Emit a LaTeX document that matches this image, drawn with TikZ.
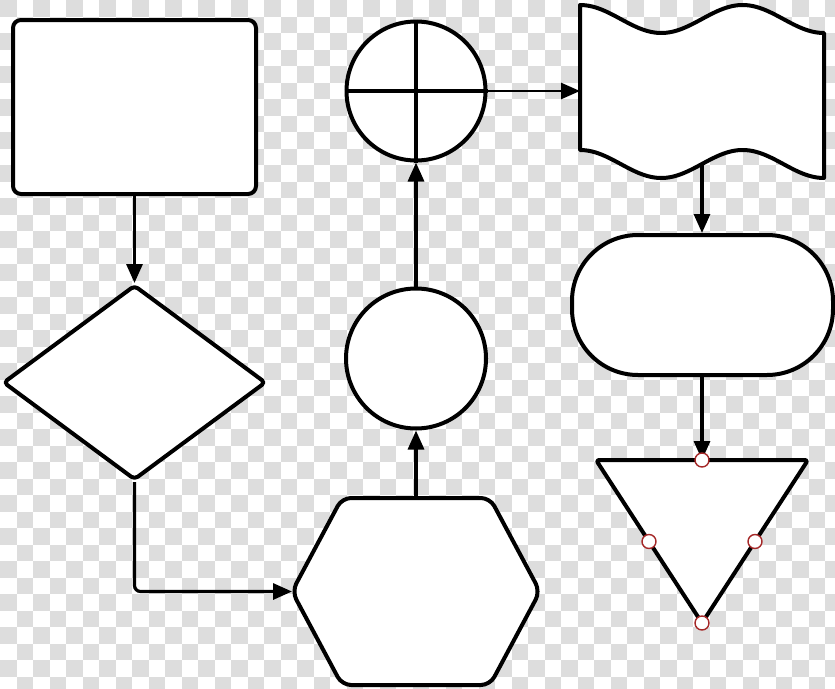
\documentclass[tikz,border=0pt]{standalone}
\usetikzlibrary{arrows.meta,shapes.geometric}
\definecolor{chkgray}{RGB}{221,221,221}
\definecolor{portred}{RGB}{165,40,40}
\begin{document}
\begin{tikzpicture}[x=1pt,y=-1pt,
  shp/.style={draw=black,fill=white,line width=4pt,line join=round},
  conn/.style={draw=black,line width=3.2pt,-{Triangle[length=19pt,width=16pt]}},
  port/.style={circle,draw=portred,fill=white,line width=1.4pt,minimum size=14pt,inner sep=0pt}]
\useasboundingbox (0,0) rectangle (835,688);
\fill[white] (0,0) rectangle (835,688);
\begin{scope}
  \clip (0,0) rectangle (835,688);
  \foreach \j in {0,...,41}{
    \foreach \i in {0,2,...,50}{
      \fill[chkgray] ({(\i+mod(\j,2))*16.5},{\j*16.5}) rectangle ++(16.5,16.5);
    }
  }
\end{scope}

% process box
\node[shp,rectangle,rounded corners=8pt,minimum width=243pt,minimum height=174pt,inner sep=0pt] (proc) at (134.5,107) {};
% decision
\node[shp,diamond,rounded corners=4pt,minimum width=263pt,minimum height=195pt,inner sep=0pt] (dec) at (134.5,382.5) {};
% hexagon
\draw[shp,rounded corners=9pt] (292,591.5) -- (342,498) -- (490,498) -- (540,591.5) -- (490,685) -- (342,685) -- cycle;
\coordinate (hexL) at (292,591.5);
\coordinate (hexT) at (416,498);
% connector circle
\node[shp,circle,minimum size=140pt,inner sep=0pt] (con) at (416,358.5) {};
% summing junction
\node[shp,circle,minimum size=139pt,inner sep=0pt] (sum) at (416,91) {};
\draw[line width=3.4pt] (sum.north) -- (sum.south);
\draw[line width=3.4pt] (sum.west) -- (sum.east);
% tape
\draw[shp] plot[domain=0:244,samples=80] ({580+\x},{19-14*cos(\x*2.214)})
  -- plot[domain=244:0,samples=80] ({580+\x},{164-14*cos(\x*2.214)}) -- cycle;
\coordinate (tapeL) at (580,91);
\coordinate (tapeB) at (702,164);
% terminal
\node[shp,rectangle,rounded corners=66pt,minimum width=261pt,minimum height=140pt,inner sep=0pt] (term) at (702.5,305) {};
% triangle
\draw[shp,rounded corners=3pt] (596,460) -- (808,460) -- (702,623) -- cycle;
\coordinate (triT) at (702,460);

% connectors
\draw[conn] (proc.south) -- (dec.north);
\draw[conn,rounded corners=6pt] (dec.south) |- (hexL);
\draw[conn] (hexT) -- (con.south);
\draw[conn] (con.north) -- (sum.south);
\draw[conn,line width=2.6pt] (sum.east) -- (tapeL);
\draw[conn] (tapeB) -- (term.north -| tapeB);
\draw[conn] (term.south -| triT) -- (triT);

% ports
\node[port] (p1) at (702,460) {};
\node[port] (p2) at (649,541.5) {};
\node[port] (p3) at (755,541.5) {};
\node[port] (p4) at (702,623) {};
\end{tikzpicture}
\end{document}
